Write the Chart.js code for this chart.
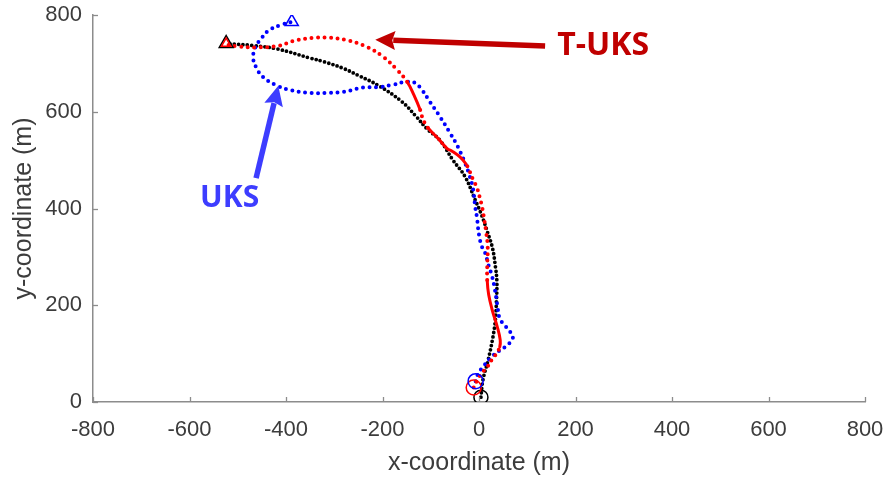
<!DOCTYPE html>
<html>
<head>
<meta charset="utf-8">
<script src="https://cdn.jsdelivr.net/npm/chart.js@4.4.1/dist/chart.umd.min.js"></script>
<style>
  html, body { margin: 0; padding: 0; background: #ffffff; }
  #wrap { width: 889px; height: 484px; }
</style>
</head>
<body>
<div id="wrap"><canvas id="chart" width="889" height="484"></canvas></div>
<script>
// Ground-truth track (m)
const trueX = [4, 8, 19, 29, 34, 36, 37, 34, 28, 18, 6, -8, -29, -54, -81, -108, -130, -160, -208, -250, -282, -320, -350, -419, -470, -524];
const trueY = [10, 45, 87, 135, 170, 205, 250, 280, 318, 350, 385, 418, 466, 500, 541, 565, 590, 621, 654, 675, 690, 703, 711, 730, 737, 741];

// T-UKS estimate (m)
const tuksX = [-11, -2, 6, 17, 27, 37, 43, 44, 38, 28, 20, 17, 17, 18, 15, 11, 7, 1, -5, -12, -20, -27, -39, -55, -66, -85, -106, -113, -118, -122, -135, -149, -170, -199, -232, -274, -309, -344, -385, -417, -460, -500, -524];
const tuksY = [30, 48, 60, 72, 88, 101, 114, 128, 155, 188, 222, 252, 280, 321, 350, 376, 400, 425, 445, 459, 478, 492, 506, 518, 524, 545, 567, 578, 590, 604, 635, 662, 687, 714, 734, 748, 753, 753, 746, 736, 733, 735, 739];

// UKS estimate (m)
const uksX = [-7, -2, 10, 25, 42, 56, 68, 70, 62, 52, 43, 38, 33, 27, 20, 12, 6, 2, -2, -4, -8, -12, -19, -29, -44, -60, -81, -102, -118, -133, -150, -178, -205, -240, -282, -315, -350, -392, -423, -448, -462, -468, -464, -450, -433, -408, -388];
const uksY = [43, 58, 75, 92, 106, 115, 128, 136, 148, 160, 172, 200, 232, 260, 282, 310, 321, 335, 360, 380, 404, 439, 466, 494, 528, 556, 590, 621, 645, 660, 662, 656, 651, 650, 641, 639, 639, 645, 656, 672, 692, 711, 732, 753, 770, 780, 786];

// Start (circle) and end (triangle) positions
const startPoints = { truth: [4, 10], tuks: [-11, 30], uks: [-7, 43] };
const endPoints = { truth: [-524, 741], tuks: [-524, 741], uks: [-388, 786] };

// Axis ticks
const xTicks = [-800, -600, -400, -200, 0, 200, 400, 600, 800];
const yTicks = [0, 200, 400, 600, 800];

// Index ranges of the T-UKS track that are drawn as a continuous stroke
const tuksSolidRanges = [[6, 10], [21, 25], [29, 30]];

// Annotation anchors in data units
const tuksLabel = { text: 'T-UKS', at: [162, 718] };
const tuksArrow = { from: [137, 736], to: [-215, 749] };
const uksLabel = { text: 'UKS', at: [-578, 403] };
const uksArrow = { from: [-462, 463], to: [-416, 654] };

const AXIS_COLOR = '#8c8c8c';
const TEXT_COLOR = '#3c3c3c';
const AXIS_FONT = '"Liberation Sans", Arial, Helvetica, sans-serif';

const toPoints = (xs, ys) => xs.map((x, i) => ({ x, y: ys[i] }));
const inSolid = i => tuksSolidRanges.some(([a, b]) => i >= a && i <= b);

function marker(pt, style, color, radius) {
  return {
    data: [{ x: pt[0], y: pt[1] }],
    showLine: false,
    pointStyle: style,
    pointRadius: radius,
    pointBorderWidth: 1.5,
    borderColor: color,
    backgroundColor: 'rgba(0,0,0,0)',
    pointBackgroundColor: 'rgba(0,0,0,0)'
  };
}

function track(xs, ys, color, gap, dot) {
  return {
    data: toPoints(xs, ys),
    showLine: true,
    pointRadius: 0,
    borderColor: color,
    borderWidth: dot,
    borderCapStyle: 'round',
    borderJoinStyle: 'round',
    borderDash: [0, gap],
    tension: 0.4,
    fill: false
  };
}

const tuksTrack = track(tuksX, tuksY, '#ff0000', 6.5, 4);
tuksTrack.segment = {
  borderDash: ctx => inSolid(ctx.p0DataIndex) ? [] : [0, 6.5],
  borderWidth: ctx => inSolid(ctx.p0DataIndex) ? 3 : 4
};

// Arrow and label drawing for the annotations
function drawArrow(ctx, p0, p1, color, shaft, headLen, headHalf) {
  const dx = p1[0] - p0[0], dy = p1[1] - p0[1];
  const len = Math.hypot(dx, dy);
  const ux = dx / len, uy = dy / len;
  const bx = p1[0] - ux * headLen, by = p1[1] - uy * headLen;
  ctx.save();
  ctx.strokeStyle = color;
  ctx.fillStyle = color;
  ctx.lineWidth = shaft;
  ctx.lineCap = 'butt';
  ctx.beginPath();
  ctx.moveTo(p0[0], p0[1]);
  ctx.lineTo(bx + ux * 2, by + uy * 2);
  ctx.stroke();
  ctx.beginPath();
  ctx.moveTo(p1[0], p1[1]);
  ctx.lineTo(bx - uy * headHalf, by + ux * headHalf);
  ctx.lineTo(bx + ux * 3, by + uy * 3);
  ctx.lineTo(bx + uy * headHalf, by - ux * headHalf);
  ctx.closePath();
  ctx.fill();
  ctx.restore();
}

const decorations = {
  id: 'decorations',
  afterDraw(chart) {
    const { ctx, chartArea: area, scales: { x, y } } = chart;
    const px = p => [x.getPixelForValue(p[0]), y.getPixelForValue(p[1])];

    // inward tick marks on the two drawn axes
    ctx.save();
    ctx.strokeStyle = AXIS_COLOR;
    ctx.lineWidth = 1.3;
    xTicks.forEach(v => {
      const xp = Math.round(x.getPixelForValue(v)) + 0.5;
      ctx.beginPath();
      ctx.moveTo(xp, area.bottom);
      ctx.lineTo(xp, area.bottom - 5);
      ctx.stroke();
    });
    yTicks.forEach(v => {
      const yp = Math.round(y.getPixelForValue(v)) + 0.5;
      ctx.beginPath();
      ctx.moveTo(area.left, yp);
      ctx.lineTo(area.left + 5, yp);
      ctx.stroke();
    });
    ctx.restore();

    // callouts
    drawArrow(ctx, px(tuksArrow.from), px(tuksArrow.to), '#c00000', 5.5, 20, 9.5);
    drawArrow(ctx, px(uksArrow.from), px(uksArrow.to), '#3d3dff', 5.5, 20, 9.5);

    ctx.save();
    ctx.textBaseline = 'alphabetic';
    ctx.textAlign = 'left';
    ctx.font = 'bold 32px "Open Sans", sans-serif';
    ctx.fillStyle = '#c00000';
    const tp = px(tuksLabel.at);
    ctx.fillText(tuksLabel.text, tp[0], tp[1]);
    ctx.font = 'bold 30px "Open Sans", sans-serif';
    ctx.fillStyle = '#3d3dff';
    const up = px(uksLabel.at);
    ctx.fillText(uksLabel.text, up[0], up[1]);
    ctx.restore();
  }
};

new Chart(document.getElementById('chart'), {
  type: 'scatter',
  data: {
    datasets: [
      marker(endPoints.uks, 'triangle', '#0000ff', 7.5),
      marker(endPoints.tuks, 'triangle', '#ff0000', 5.5),
      marker(endPoints.truth, 'triangle', '#000000', 8),
      marker(startPoints.uks, 'circle', '#0000ff', 7.5),
      marker(startPoints.tuks, 'circle', '#ff0000', 7.5),
      marker(startPoints.truth, 'circle', '#000000', 7),
      tuksTrack,
      track(uksX, uksY, '#0000ff', 6.5, 4),
      track(trueX, trueY, '#000000', 4.4, 3.8)
    ]
  },
  options: {
    responsive: false,
    animation: false,
    events: [],
    layout: { padding: { left: 0, right: 24, top: 15, bottom: 0 } },
    plugins: { legend: { display: false }, tooltip: { enabled: false } },
    scales: {
      x: {
        type: 'linear',
        min: -800, max: 800,
        afterFit: s => { s.height = 82; s.paddingLeft = 0; s.paddingRight = 0; },
        afterBuildTicks: s => { s.ticks = xTicks.map(v => ({ value: v })); },
        grid: { display: false, drawTicks: false },
        border: { display: true, color: AXIS_COLOR, width: 1.5 },
        ticks: {
          padding: 15, color: TEXT_COLOR, maxRotation: 0,
          font: { family: AXIS_FONT, size: 22 }
        },
        title: {
          display: true, text: 'x-coordinate (m)', color: TEXT_COLOR,
          font: { family: AXIS_FONT, size: 25 },
          padding: { top: 0, bottom: 6 }
        }
      },
      y: {
        type: 'linear',
        min: 0, max: 800,
        afterFit: s => { s.width = 93; s.paddingTop = 0; s.paddingBottom = 0; },
        afterBuildTicks: s => { s.ticks = yTicks.map(v => ({ value: v })); },
        grid: { display: false, drawTicks: false },
        border: { display: true, color: AXIS_COLOR, width: 1.5 },
        ticks: {
          padding: 11, color: TEXT_COLOR,
          font: { family: AXIS_FONT, size: 22 }
        },
        title: {
          display: true, text: 'y-coordinate (m)', color: TEXT_COLOR,
          font: { family: AXIS_FONT, size: 25 },
          padding: { top: 9, bottom: 0 }
        }
      }
    }
  },
  plugins: [decorations]
});
</script>
</body>
</html>
